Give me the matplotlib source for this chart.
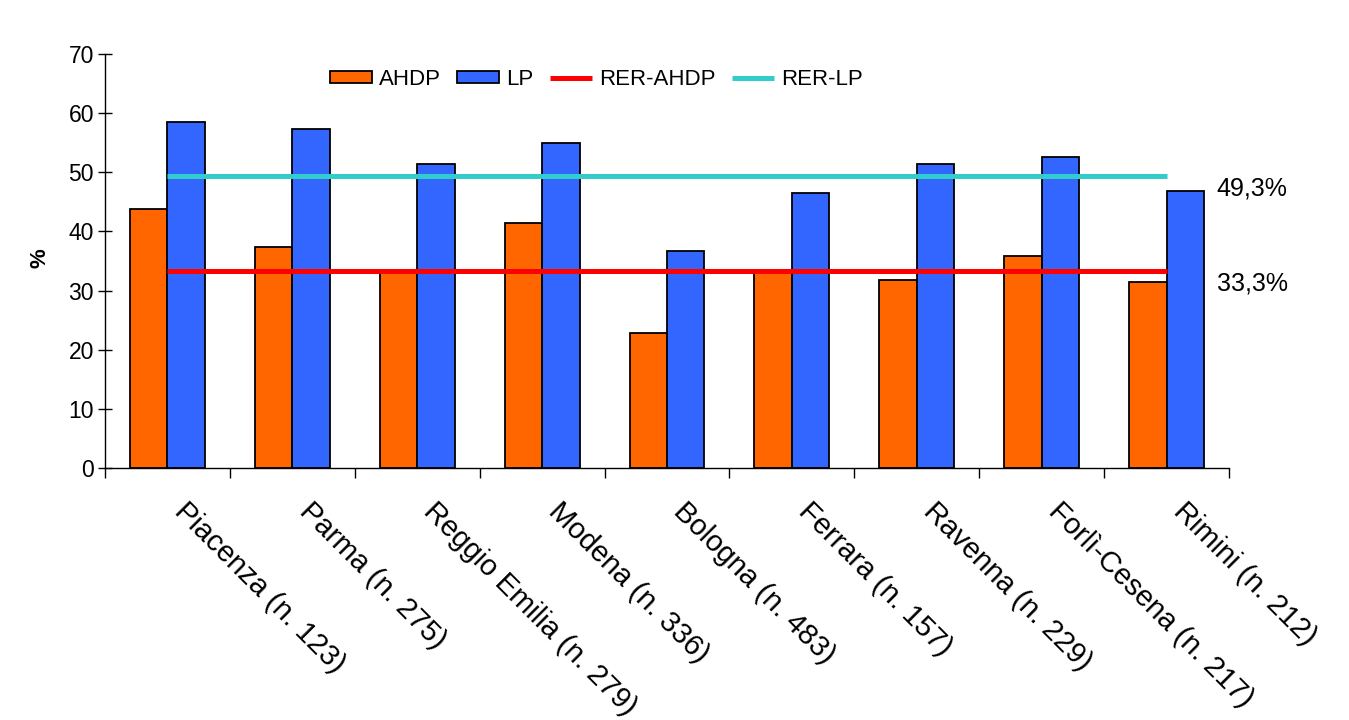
import matplotlib
matplotlib.use("Agg")
import matplotlib.pyplot as plt
import matplotlib.transforms as mtransforms
import numpy as np

plt.rcParams['font.family'] = ['Liberation Sans', 'DejaVu Sans']

categories = ["Piacenza (n. 123)", "Parma (n. 275)", "Reggio Emilia (n. 279)",
              "Modena (n. 336)", "Bologna (n. 483)", "Ferrara (n. 157)",
              "Ravenna (n. 229)", "Forlì-Cesena (n. 217)", "Rimini (n. 212)"]
ahdp = [43.8, 37.4, 33.2, 41.5, 22.9, 33.1, 31.8, 35.9, 31.5]
lp = [58.5, 57.3, 51.3, 55.0, 36.7, 46.5, 51.4, 52.6, 46.9]
rer_ahdp = 33.3
rer_lp = 49.3
rer_ahdp_label = "33,3%"
rer_lp_label = "49,3%"
yticks = [0, 10, 20, 30, 40, 50, 60, 70]

ORANGE = "#FF6600"
BLUE = "#3366FF"
RED = "#FF0000"
CYAN = "#33CCCC"

fig = plt.figure(figsize=(13.49, 7.2), dpi=100)
ax = fig.add_axes([105/1349, 1-468.3/720, (1229-105)/1349, (468.3-53.7)/720])

n = len(categories)
x = np.arange(n)
w = 0.3
b1 = ax.bar(x - w/2, ahdp, w, color=ORANGE, edgecolor="black", linewidth=1.3, label="AHDP", zorder=2)
b2 = ax.bar(x + w/2, lp, w, color=BLUE, edgecolor="black", linewidth=1.3, label="LP", zorder=2)
l1, = ax.plot([x[0], x[-1]], [rer_ahdp, rer_ahdp], color=RED, linewidth=3.6, label="RER-AHDP", zorder=3, solid_capstyle='butt')
l2, = ax.plot([x[0], x[-1]], [rer_lp, rer_lp], color=CYAN, linewidth=3.6, label="RER-LP", zorder=3, solid_capstyle='butt')

ax.set_xlim(-0.5, n - 0.5)
ax.set_ylim(0, 70)
ax.set_yticks(yticks)
ax.tick_params(axis='y', direction='inout', length=10, width=1, labelsize=16.5, pad=3)
ax.set_xticks(np.arange(n + 1) - 0.5)
ax.set_xticklabels([])
ax.tick_params(axis='x', direction='out', length=7, width=1)
for s in ['top', 'right']:
    ax.spines[s].set_visible(False)
for s in ['left', 'bottom']:
    ax.spines[s].set_linewidth(1)
ax.spines['left'].set_zorder(4)

off = mtransforms.offset_copy(ax.transData, fig=fig, x=21, y=-29, units='dots')
for i, lab in enumerate(categories):
    ax.text(i, 0, lab, transform=off, rotation=-45, rotation_mode='anchor',
            ha='left', va='top', fontsize=21, clip_on=False)

ax.text(8.4, rer_lp, rer_lp_label, fontsize=18, ha='left', va='top')
ax.text(8.4, rer_ahdp, rer_ahdp_label, fontsize=18, ha='left', va='top')

fig.text(40/1349, 1-258/720, "%", rotation=90, fontsize=16, fontweight='bold', ha='center', va='center')

ax.legend(handles=[b1, b2, l1, l2], ncol=4, frameon=False,
          loc='center', bbox_to_anchor=(0.437, 0.938), fontsize=16,
          handlelength=1.9, handleheight=0.5, handletextpad=0.3, columnspacing=0.75,
          borderpad=0)

fig.savefig("out.png", dpi=100)
